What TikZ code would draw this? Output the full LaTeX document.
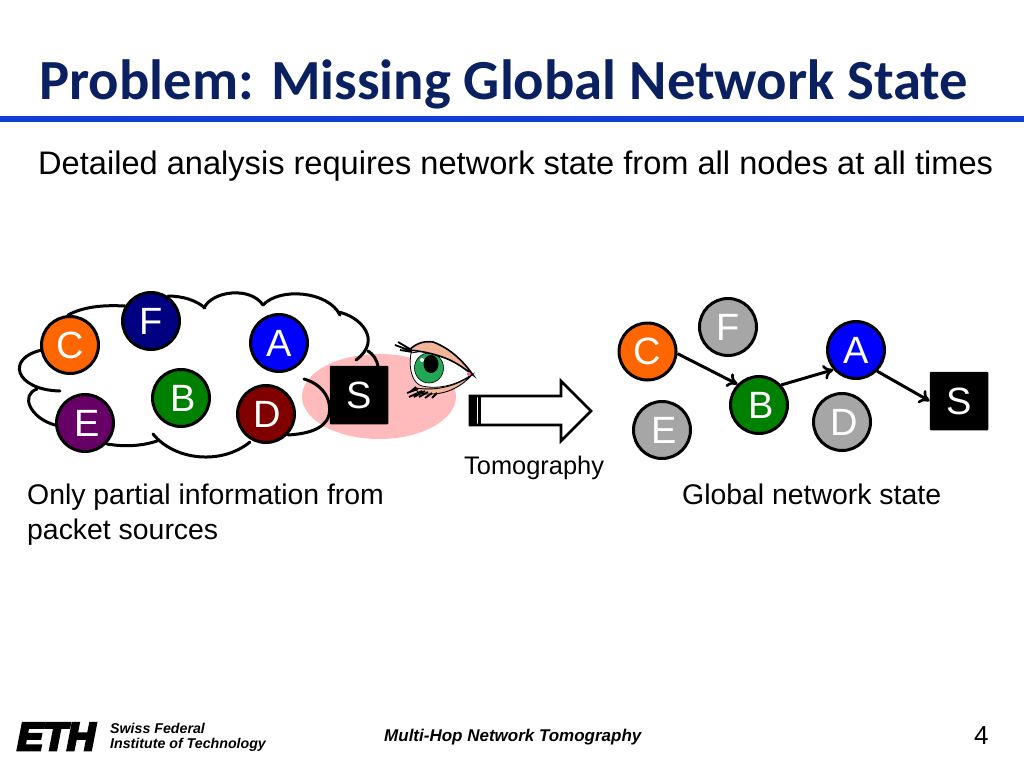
\documentclass[tikz,border=0pt]{standalone}
\usepackage{fontspec}
\setmainfont{Liberation Sans}
\newfontfamily\titlefont{Carlito}
\newfontfamily\ethfont[FakeBold=7]{Liberation Sans}
\usetikzlibrary{arrows.meta}
\definecolor{titleblue}{HTML}{0B2060}
\definecolor{rulerblue}{HTML}{0F3FD2}
\definecolor{pinkspot}{HTML}{FFBBBB}
\definecolor{cC}{HTML}{FF6600}
\definecolor{cF}{HTML}{000080}
\definecolor{cA}{HTML}{0000FF}
\definecolor{cB}{HTML}{008000}
\definecolor{cD}{HTML}{800000}
\definecolor{cE}{HTML}{660066}
\definecolor{cG}{HTML}{A6A6A6}
\definecolor{skin}{HTML}{F4B49A}
\definecolor{iris}{HTML}{22A855}
\newcommand{\fs}[1]{\fontsize{#1}{#1}\selectfont}
\tikzset{
  x=1pt,y=-1pt,
  netnode/.style={circle,draw=black,line width=3pt,minimum size=57pt,inner sep=0pt,text=white,font=\fs{38}},
  srcnode/.style={rectangle,fill=black,rounded corners=1pt,minimum size=58.5pt,inner sep=0pt,text=white,font=\fs{38}},
  label/.style={anchor=base west,inner sep=0pt,text=black},
  cloudline/.style={line width=3pt,line cap=round},
  flow/.style={line width=3pt,-{To[length=10pt,width=15pt,line width=2.6pt]}},
}
\begin{document}
\begin{tikzpicture}
\useasboundingbox (0,0) rectangle (1024,768);
\node[anchor=base west,inner sep=0pt,text=titleblue,font=\titlefont\bfseries\fs{56.7}] (title) at (39,99) {Problem: Missing Global Network State};
\fill[rulerblue] (0,116) rectangle (1024,122);
\node[label,font=\fs{32.6}] (sub) at (38,174) {Detailed analysis requires network state from all nodes at all times};

% pink spot
\fill[pinkspot] (379,396.5) ellipse [x radius=77,y radius=42.5];

% cloud
\draw[cloudline] (68,315) .. controls (85,306) and (105,305) .. (125,306);
\draw[cloudline] (168,296) .. controls (182,296) and (196,300) .. (205,308);
\draw[cloudline] (204,308) .. controls (212,291) and (250,286) .. (263,305);
\draw[cloudline] (263,305) .. controls (280,287) and (328,291) .. (340,315);
\draw[cloudline] (338,312) .. controls (360,316) and (383,340) .. (356,360);
\draw[cloudline] (368,351) .. controls (373,354) and (377,360) .. (378,366);
\draw[cloudline] (304,379) .. controls (325,385) and (332,402) .. (329,415) .. controls (325,430) and (305,434) .. (288,435);
\draw[cloudline] (250,442) .. controls (222,465) and (175,461) .. (153,434);
\draw[cloudline] (157,441) .. controls (142,446) and (125,447) .. (107,444);
\draw[cloudline] (55,425) .. controls (30,418) and (20,395) .. (37,389);
\draw[cloudline] (60,391) .. controls (15,390) and (5,358) .. (42,350);

% nodes, left
\node[netnode,fill=cC] (lC) at (70,345) {C};
\node[netnode,fill=cF] (lF) at (151,321) {F};
\node[netnode,fill=cA] (lA) at (279,343) {A};
\node[netnode,fill=cB] (lB) at (181,398) {\kern5pt B};
\node[netnode,fill=cD] (lD) at (266,414) {\kern3pt D};
\node[netnode,fill=cE] (lE) at (85,423) {\kern5pt E};
\node[srcnode] (lS) at (359,395) {S};

% eye
\fill[white,draw=black,line width=0.8pt] (411,353) .. controls (408,372) and (414,384) .. (422,386) .. controls (440,390) and (458,384) .. (471,375) .. controls (462,362) and (448,352) .. (430,350) -- cycle;
\begin{scope}
\clip (411,353) .. controls (408,372) and (414,384) .. (422,386) .. controls (440,390) and (458,384) .. (471,375) .. controls (462,362) and (448,352) .. (430,350) -- cycle;
\fill[iris,draw=black,line width=0.6pt] (429,368) ellipse [x radius=14.5,y radius=15];
\fill[black] (431,364) ellipse [x radius=7.5,y radius=9];
\fill[white] (422,360) circle [radius=2];
\end{scope}
\fill[skin,draw=black,line width=1.6pt] (409,350) .. controls (418,342) and (425,341) .. (433,342) .. controls (450,348) and (464,362) .. (473,375) .. controls (466,370) and (458,363) .. (445,358) .. controls (432,353) and (420,351) .. (409,350) -- cycle;
\fill[skin,draw=black,line width=0.9pt] (416,388) .. controls (435,391) and (455,387) .. (472,375) .. controls (458,390) and (440,397) .. (418,393) -- cycle;
\fill[magenta!50!pink] (469,374) circle [radius=2];
\draw[black,line width=1.8pt] (411,351) -- (395,345) (410,349) -- (398,342) (412,352) -- (400,350);
\draw[black,line width=1.8pt] (416,387) -- (410,392) (418,389) -- (407,393) (422,391) -- (409,397) (425,391) -- (414,397) (428,392) -- (419,397) (432,393) -- (425,398) (437,393) -- (432,398);

% block arrow
\draw[draw=black,fill=white,line width=2.6pt,miter limit=10] (470,396) -- (561,396) -- (561,381) -- (591,411) -- (561,441) -- (561,425) -- (470,425) -- cycle;
\fill[black] (469,395) rectangle (476.5,426);
\fill[black] (478,395) rectangle (481,426);
\node[label,font=\fs{25.4}] (tomo) at (464,474) {Tomography};

% nodes, right
\node[netnode,fill=cC] (rC) at (647.5,351.5) {C};
\node[netnode,fill=cG] (rF) at (728,327) {F};
\node[netnode,fill=cA] (rA) at (856,350) {A};
\node[netnode,fill=cB] (rB) at (759,405) {\kern4pt B};
\node[netnode,fill=cG] (rD) at (842,422) {\kern4pt D};
\node[netnode,fill=cG] (rE) at (662,430) {\kern5pt E};
\node[srcnode] (rS) at (959,401) {S};
\draw[flow] (rC.-4) -- (rB.136);
\draw[flow] (rB.42) -- (rA.221);
\draw[flow] (rA.-45) -- (rS.west);

\node[label,font=\fs{28.4}] (left1) at (27,504) {Only partial information from};
\node[label,font=\fs{28.4}] (left2) at (27,539) {packet sources};
\node[label,font=\fs{28.4}] (right1) at (682,504) {Global network state};

% footer
\node[label,font=\ethfont\bfseries\itshape\fs{39}] (eth) at (17,750) {ETH};
\node[label,font=\bfseries\itshape\fs{14.2}] (swiss) at (110,733) {Swiss Federal};
\node[label,font=\bfseries\itshape\fs{14.2}] (inst) at (110,748) {Institute of Technology};
\node[label,font=\bfseries\itshape\fs{17}] (foot) at (384,741) {Multi-Hop Network Tomography};
\node[label,font=\fs{26}] (page) at (974,744) {4};
\end{tikzpicture}
\end{document}
